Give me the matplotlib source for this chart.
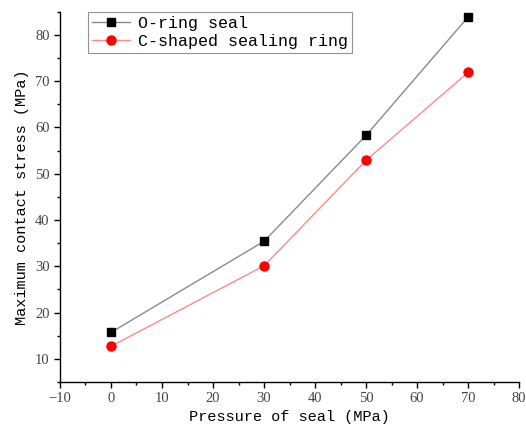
import matplotlib
matplotlib.use("Agg")
import matplotlib.pyplot as plt
from matplotlib.ticker import MultipleLocator

# data
pressure = [0, 30, 50, 70]
oring = [15.7, 35.4, 58.3, 83.9]
cshape = [12.7, 30.1, 52.9, 71.9]

plt.rcParams['font.family'] = 'Liberation Mono'

fig = plt.figure(figsize=(5.26, 4.37), dpi=100)
ax = fig.add_axes([0.114, 0.126, 0.873, 0.847])

ax.plot(pressure, oring, color='#8a8a8a', lw=1, marker='s', ms=6,
        mfc='black', mec='black', label='O-ring seal')
ax.plot(pressure, cshape, color='#ff8a8a', lw=1, marker='o', ms=6.5,
        mfc='red', mec='red', label='C-shaped sealing ring')

ax.set_xlim(-10, 80)
ax.set_ylim(5, 85)
ax.xaxis.set_major_locator(MultipleLocator(10))
ax.xaxis.set_minor_locator(MultipleLocator(5))
ax.yaxis.set_major_locator(MultipleLocator(10))
ax.yaxis.set_minor_locator(MultipleLocator(5))

for s in ['top', 'right']:
    ax.spines[s].set_visible(False)
for s in ['left', 'bottom']:
    ax.spines[s].set_linewidth(1.0)

ax.tick_params(which='major', direction='out', length=4, width=1, labelsize=10.5)
ax.tick_params(which='minor', direction='out', length=2.5, width=1)
for lab in ax.get_xticklabels() + ax.get_yticklabels():
    lab.set_fontfamily('Liberation Serif')
    lab.set_color('#444444')

ax.set_xlabel('Pressure of seal (MPa)', fontsize=11, labelpad=3)
ax.set_ylabel('Maximum contact stress (MPa)', fontsize=11, labelpad=4)

leg = ax.legend(loc='upper left', bbox_to_anchor=(0.061, 1.0), fontsize=12,
                frameon=True, fancybox=False, edgecolor='#777777',
                handlelength=2.3, handletextpad=0.45, borderpad=0.25,
                labelspacing=0.2, borderaxespad=0.0)
leg.get_frame().set_linewidth(0.8)

fig.savefig('out.png', dpi=100)
